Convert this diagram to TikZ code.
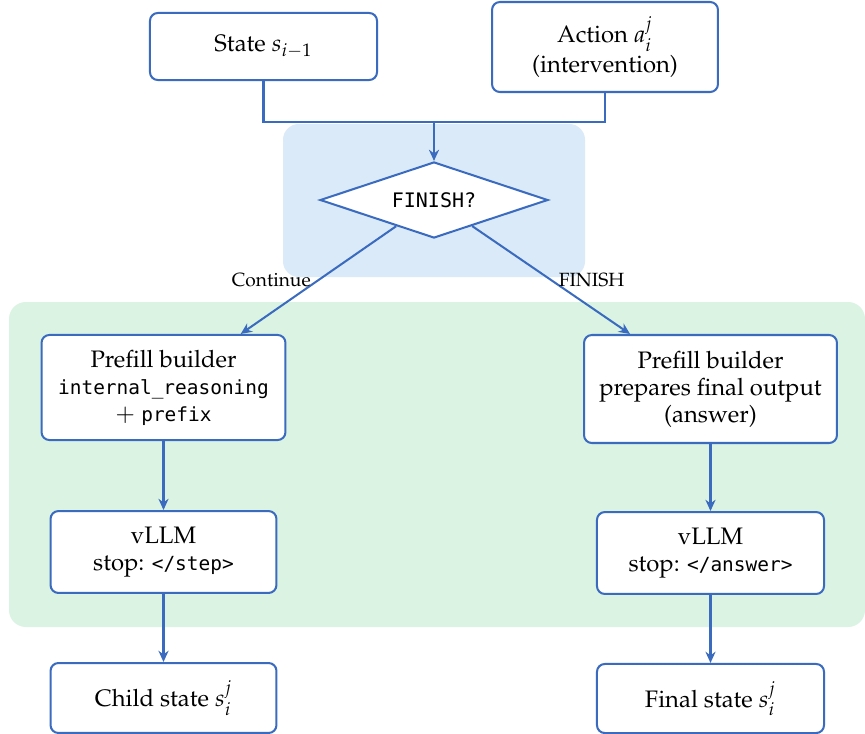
\documentclass[tikz,border=0pt]{standalone}
\usepackage{fontspec}
\newfontfamily\dvmono{DejaVu Sans Mono}[Scale=0.815]
\usepackage[T1]{fontenc}
\usepackage{mathpazo}
\newcommand{\mtt}[1]{{\fontencoding{TU}\dvmono #1}}
\usetikzlibrary{shapes.geometric,arrows.meta}
\definecolor{lineblue}{RGB}{59,107,191}
\definecolor{bgblue}{RGB}{218,234,248}
\definecolor{bggreen}{RGB}{219,243,227}
\tikzset{
  box/.style={draw=lineblue, line width=0.9pt, rounded corners=3.5pt, fill=white, align=center, inner sep=2pt, font=\fontsize{10.6}{12}\selectfont},
  dec/.style={draw=lineblue, line width=0.9pt, diamond, aspect=3, fill=white, inner sep=0pt, minimum width=101.3pt, minimum height=33.8pt, font=\fontsize{10.9}{12}\selectfont},
  conn/.style={draw=lineblue, line width=0.9pt},
  arr/.style={conn, -{Stealth[length=5pt,width=4.5pt]}},
  lbl/.style={font=\fontsize{8.5}{10}\selectfont, inner sep=3pt}
}
\begin{document}
\begin{tikzpicture}[x=0.4444pt, y=-0.4444pt]
\useasboundingbox (0,0) rectangle (865,734);
% backgrounds
\fill[bgblue, rounded corners=7pt] (283,124) rectangle (585,277);
\fill[bggreen, rounded corners=7.5pt] (9,302) rectangle (865,627);
% nodes
\node[box, minimum width=100.9pt, minimum height=29.8pt] (st) at (263.5,46.5) {State $s_{i-1}$};
\node[box, minimum width=100.4pt, minimum height=40pt] (ac) at (605,47) {Action $a_i^j$\\[1pt](intervention)};
\node[dec] (d) at (434,200) {\mtt{FINISH?}};
\node[box, minimum width=108.4pt, minimum height=46.7pt] (pl) at (163.5,387.5) {Prefill builder\\\mtt{internal\_reasoning}\\$+$ \mtt{prefix}};
\node[box, minimum width=112.4pt, minimum height=48pt] (pr) at (710.5,389) {Prefill builder\\prepares final output\\(answer)};
\node[box, minimum width=100.4pt, minimum height=36.4pt] (vl) at (163.5,552) {vLLM\\stop: \mtt{</step>}};
\node[box, minimum width=100.9pt, minimum height=36.4pt] (vr) at (710.5,553) {vLLM\\stop: \mtt{</answer>}};
\node[box, minimum width=100.4pt, minimum height=31.1pt] (cs) at (163.5,698) {Child state $s_i^j$};
\node[box, minimum width=100.9pt, minimum height=30.7pt] (fs) at (710.5,698.5) {Final state $s_i^j$};
% connectors
\coordinate (j) at (434,122);
\draw[conn] (st.south) |- (j) -| (ac.south);
\draw[arr] (j) -- (d.north);
\draw[arr] (d) -- node[lbl, midway, left] {Continue} (pl);
\draw[arr] (d) -- node[lbl, midway, right] {FINISH} (pr);
\draw[arr] (pl) -- (vl);
\draw[arr] (vl) -- (cs);
\draw[arr] (pr) -- (vr);
\draw[arr] (vr) -- (fs);
\end{tikzpicture}
\end{document}
